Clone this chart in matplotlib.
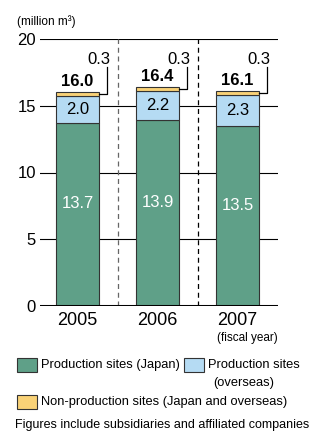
import matplotlib
matplotlib.use("Agg")
import matplotlib.pyplot as plt
from matplotlib.patches import Rectangle

plt.rcParams['font.family'] = ['Liberation Sans', 'DejaVu Sans']

# datos
years = ["2005", "2006", "2007"]
japan = [13.7, 13.9, 13.5]
overseas = [2.0, 2.2, 2.3]
non_prod = [0.3, 0.3, 0.3]
totals = [16.0, 16.4, 16.1]

c_japan = "#5fa088"
c_over = "#b5dbf3"
c_non = "#f9d277"
c_edge = "#333333"

fig = plt.figure(figsize=(3.1, 4.32), dpi=100)
ax = fig.add_axes([40/310, 1-306/432, 238/310, 267/432])

x = list(range(len(years)))
w = 0.54

# lineas de la regilla
for yv in [5, 10, 15, 20]:
    ax.axhline(yv, color="black", lw=0.8, zorder=1)
ax.axhline(0, color="black", lw=2.2, zorder=4)

# separadores punteados
ax.plot([0.5, 0.5], [0, 20], color="#666666", lw=0.9, ls=(0, (4, 3)), zorder=2)
ax.plot([1.5, 1.5], [0, 20], color="black", lw=0.9, ls=(0, (4, 3)), zorder=2)

bottom2 = japan
bottom3 = [a + b for a, b in zip(japan, overseas)]
ax.bar(x, japan, w, color=c_japan, edgecolor=c_edge, lw=0.8, zorder=3)
ax.bar(x, overseas, w, bottom=bottom2, color=c_over, edgecolor=c_edge, lw=0.8, zorder=3)
ax.bar(x, non_prod, w, bottom=bottom3, color=c_non, edgecolor=c_edge, lw=0.8, zorder=3)

for i in x:
    ax.text(i, japan[i]*0.56, f"{japan[i]:.1f}", color="white", fontsize=12,
            ha="center", va="center", zorder=5)
    ax.text(i, japan[i] + overseas[i]/2, f"{overseas[i]:.1f}", color="black",
            fontsize=12, ha="center", va="center", zorder=5)
    ax.text(i, totals[i] + 0.25, f"{totals[i]:.1f}", color="black", fontsize=12,
            fontweight="bold", ha="center", va="bottom", zorder=5)
    # linea guia para 0.3
    ym = bottom3[i] + non_prod[i]/2
    ax.plot([i + w/2, i + 0.37, i + 0.37], [ym, ym, 17.9], color="black",
            lw=0.9, zorder=5, clip_on=False)
    ax.text(i + 0.27, 18.5, f"{non_prod[i]:.1f}", fontsize=12, ha="center",
            va="center", zorder=5)

ax.set_xlim(-0.469, 2.506)
ax.set_ylim(0, 20)
ax.set_xticks(x)
ax.set_xticklabels(years, fontsize=13)
ax.set_yticks([0, 5, 10, 15, 20])
ax.set_yticklabels(["0", "5", "10", "15", "20"], fontsize=12)
ax.tick_params(axis="x", length=0, pad=4)
ax.tick_params(axis="y", length=0, pad=3)
for s in ax.spines.values():
    s.set_visible(False)

fig.text(17/310, 1-22/432, "(million m\u00b3)", fontsize=8.5, ha="left", va="center")
fig.text(247/310, 1-338/432, "(fiscal year)", fontsize=8.5, ha="center", va="center")

# leyenda hecha a mano
def caja(x0, y0, x1, y1, color):
    fig.patches.append(Rectangle((x0/310, 1-y1/432), (x1-x0)/310, (y1-y0)/432,
                                 transform=fig.transFigure, facecolor=color,
                                 edgecolor=c_edge, lw=0.8))

fs = 9.3
caja(17, 358, 37, 372, c_japan)
fig.text(41/310, 1-365/432, "Production sites (Japan)", fontsize=fs, ha="left", va="center")
caja(184, 358, 204, 372, c_over)
fig.text(208/310, 1-365/432, "Production sites", fontsize=fs, ha="left", va="center")
fig.text(213/310, 1-383/432, "(overseas)", fontsize=fs, ha="left", va="center")
caja(17, 395, 37, 409, c_non)
fig.text(41/310, 1-402/432, "Non-production sites (Japan and overseas)", fontsize=fs,
         ha="left", va="center")
fig.text(15/310, 1-425/432, "Figures include subsidiaries and affiliated companies",
         fontsize=9, ha="left", va="center")

fig.savefig("out.png", dpi=100)
